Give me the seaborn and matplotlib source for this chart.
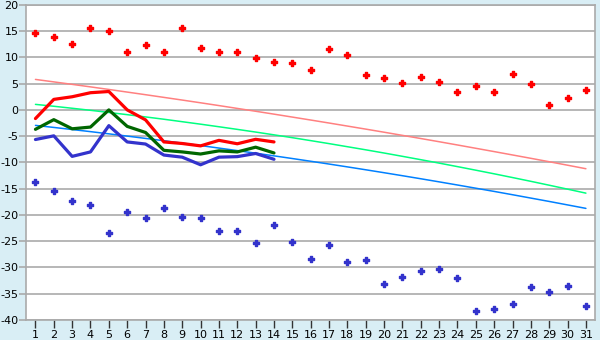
import matplotlib
matplotlib.use("Agg")
import matplotlib.pyplot as plt
import pandas as pd
import seaborn as sns

days = list(range(1, 32))
max_points = [14.6, 13.8, 12.5, 15.5, 15.0, 11.1, 12.3, 11.1, 15.5, 11.7,
              10.95, 11.1, 9.8, 9.05, 8.85, 7.5, 11.5, 10.4, 6.6, 6.0,
              5.05, 6.2, 5.25, 3.5, 4.5, 3.35, 6.75, 4.85, 0.87, 2.2, 3.7]
min_points = [-13.8, -15.5, -17.4, -18.1, -23.5, -19.5, -20.6, -18.7, -20.4, -20.6,
              -23.1, -23.1, -25.4, -21.9, -25.2, -28.4, -25.7, -29.0, -28.6, -33.2,
              -31.8, -30.7, -30.3, -32.0, -38.3, -37.9, -37.0, -33.7, -34.7, -33.5, -37.3]
trend_max = [5.80, 5.33, 4.86, 4.38, 3.89, 3.39, 2.89, 2.38, 1.87, 1.35,
             0.82, 0.28, -0.26, -0.81, -1.37, -1.93, -2.50, -3.08, -3.66, -4.25,
             -4.85, -5.45, -6.06, -6.68, -7.31, -7.94, -8.58, -9.22, -9.87, -10.53, -11.20]
trend_mean = [1.05, 0.69, 0.31, -0.08, -0.49, -0.91, -1.34, -1.78, -2.25, -2.72,
              -3.21, -3.71, -4.22, -4.75, -5.29, -5.85, -6.42, -7.01, -7.60, -8.21,
              -8.84, -9.48, -10.13, -10.80, -11.48, -12.17, -12.88, -13.60, -14.34, -15.09, -15.85]
trend_min = [-2.95, -3.34, -3.74, -4.14, -4.56, -4.99, -5.43, -5.87, -6.33, -6.79,
             -7.27, -7.75, -8.24, -8.75, -9.26, -9.78, -10.31, -10.85, -11.40, -11.96,
             -12.53, -13.11, -13.70, -14.30, -14.91, -15.52, -16.15, -16.79, -17.43, -18.09, -18.75]

obs_days = list(range(1, 15))
obs_max = [-1.65, 2.0, 2.5, 3.27, 3.5, 0.0, -1.9, -6.1, -6.4, -6.85, -5.8, -6.45, -5.6, -6.1]
obs_mean = [-3.7, -1.86, -3.6, -3.27, 0.0, -3.14, -4.3, -7.7, -8.0, -8.4, -7.8, -8.0, -7.1, -8.2]
obs_min = [-5.64, -4.94, -8.85, -8.0, -3.0, -6.1, -6.5, -8.6, -9.0, -10.45, -9.0, -8.9, -8.3, -9.4]

y_ticks = list(range(-40, 21, 5))

sns.set_theme(style="white")
plt.rcParams['font.family'] = ['DejaVu Sans']

fig = plt.figure(figsize=(6, 3.4), dpi=100, facecolor="#d9eef5")
ax = fig.add_axes([0.0438, 0.0588, 0.948, 0.927])
ax.set_facecolor("white")

trend_df = pd.DataFrame({"day": days, "tmax": trend_max, "tmean": trend_mean, "tmin": trend_min})
obs_df = pd.DataFrame({"day": obs_days, "max": obs_max, "mean": obs_mean, "min": obs_min})
pts_df = pd.DataFrame({"day": days, "max": max_points, "min": min_points})

for col, c in [("tmax", "#ff8080"), ("tmean", "#00ff80"), ("tmin", "#0080ff")]:
    sns.lineplot(data=trend_df, x="day", y=col, color=c, linewidth=1.1, ax=ax, zorder=2)

for col, c in [("max", "#ff0000"), ("mean", "#006600"), ("min", "#3333cc")]:
    sns.lineplot(data=obs_df, x="day", y=col, color=c, linewidth=2.3, ax=ax, zorder=3)

sns.scatterplot(data=pts_df, x="day", y="max", color="#ff0000", marker="P", s=24,
                linewidth=1.0, edgecolor="#ff0000", ax=ax, zorder=4)
sns.scatterplot(data=pts_df, x="day", y="min", color="#3333cc", marker="P", s=24,
                linewidth=1.0, edgecolor="#3333cc", ax=ax, zorder=4)

ax.set_xlim(0.5, 31.5)
ax.set_ylim(-40, 20)
ax.set_xticks(days)
ax.set_xticklabels([str(d) for d in days])
ax.set_yticks(y_ticks)
ax.set_yticklabels([str(v) for v in y_ticks])
ax.yaxis.grid(True, color="#aaaaaa", linewidth=1.2)
ax.set_axisbelow(True)
ax.set_xlabel("")
ax.set_ylabel("")
for s in ax.spines.values():
    s.set_color("#aaaaaa")
    s.set_linewidth(1.2)
ax.tick_params(axis="x", which="both", bottom=True, length=6, width=1, color="#333333",
               labelsize=8, pad=1, labelcolor="black")
ax.tick_params(axis="y", which="both", left=True, length=5, width=1.2, color="#aaaaaa",
               labelsize=8, pad=0.5, labelcolor="black")

fig.savefig("out.png", dpi=100, facecolor=fig.get_facecolor())
